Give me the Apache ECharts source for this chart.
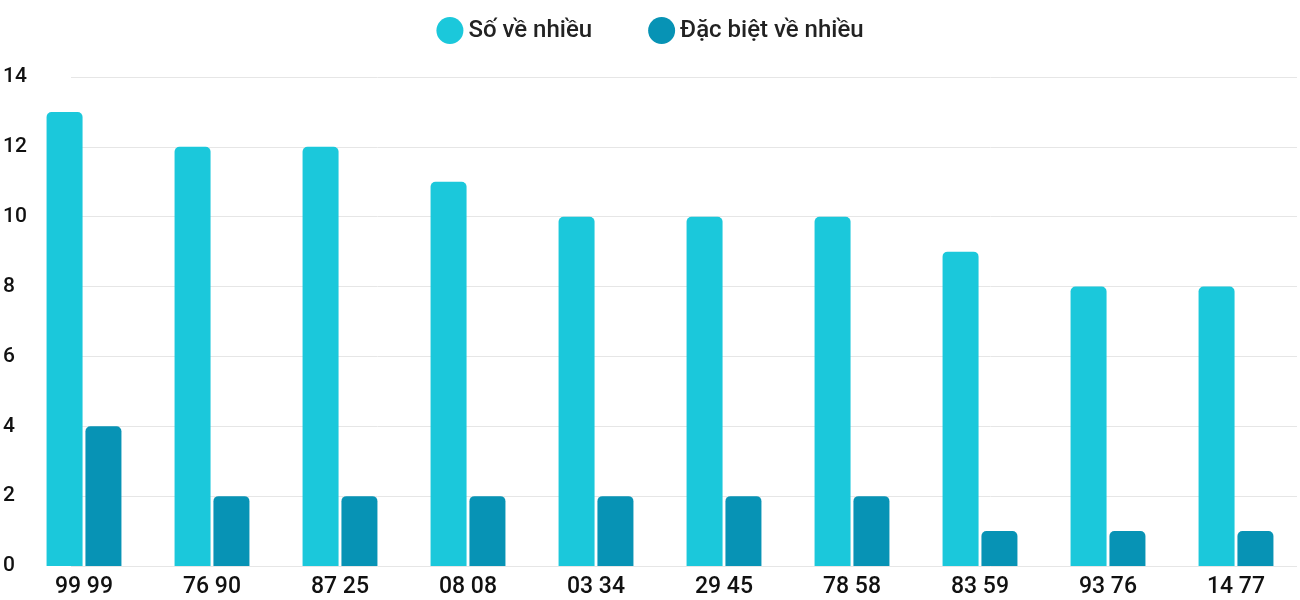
<!DOCTYPE html>
<html lang="vi">
<head>
<meta charset="UTF-8">
<title>Chart</title>
<style>html,body{margin:0;padding:0;background:#fff}</style>
</head>
<body>
<div id="main" style="width:1300px;height:600px;"></div>
<script src="https://cdn.jsdelivr.net/npm/echarts@6/dist/echarts.min.js"></script>
<script>
var categories = ['99 99', '76 90', '87 25', '08 08', '03 34', '29 45', '78 58', '83 59', '93 76', '14 77'];
var soVeNhieu = [13, 12, 12, 11, 10, 10, 10, 9, 8, 8];
var dacBiet = [4, 2, 2, 2, 2, 2, 2, 1, 1, 1];
var yTicks = [0, 2, 4, 6, 8, 10, 12, 14];

var myChart = echarts.init(document.getElementById('main'));
var font = 'Roboto';
var option = {
	animation: false,
	textStyle: { fontFamily: font },
	legend: {
		top: 12,
		itemGap: 56,
		icon: 'circle',
		itemWidth: 27,
		itemHeight: 27,
		textStyle: { fontSize: 24, fontWeight: 500, color: '#222', fontFamily: font },
		data: ['Số về nhiều', 'Đặc biệt về nhiều']
	},
	// grid 0: y labels + gridlines, grid 1: bars
	grid: [
		{ left: 26, right: 3, top: 77, bottom: 34, containLabel: false },
		{ left: 20, width: 1310, top: 77, bottom: 34, containLabel: false }
	],
	xAxis: [
		{ gridIndex: 0, type: 'category', data: categories, show: false },
		{
			gridIndex: 1, type: 'category', data: categories,
			axisLine: { show: false }, axisTick: { show: false },
			axisLabel: { fontSize: 23, fontWeight: 500, color: '#111', margin: 10, fontFamily: font }
		}
	],
	yAxis: [
		{
			gridIndex: 0, type: 'value', min: 0, max: 14, interval: 2,
			axisLabel: { fontSize: 21, fontWeight: 500, color: '#111', margin: 20, align: 'left', padding: [0, 0, 0, -48], fontFamily: font,
				formatter: function (v) { return yTicks.indexOf(v) >= 0 ? String(v) : ''; } },
			splitLine: { lineStyle: { color: '#e6e6e6' } }
		},
		{ gridIndex: 1, type: 'value', min: 0, max: 14, interval: 2, show: false }
	],
	series: [
		{
			name: 'Số về nhiều', type: 'bar', xAxisIndex: 1, yAxisIndex: 1,
			data: soVeNhieu, barWidth: 36, barGap: '8%',
			itemStyle: { color: '#1bc8db', borderRadius: [5, 5, 0, 0] }
		},
		{
			name: 'Đặc biệt về nhiều', type: 'bar', xAxisIndex: 1, yAxisIndex: 1,
			data: dacBiet, barWidth: 36,
			itemStyle: { color: '#0793b5', borderRadius: [5, 5, 0, 0] }
		}
	]
};
myChart.setOption(option);
</script>
</body>
</html>
